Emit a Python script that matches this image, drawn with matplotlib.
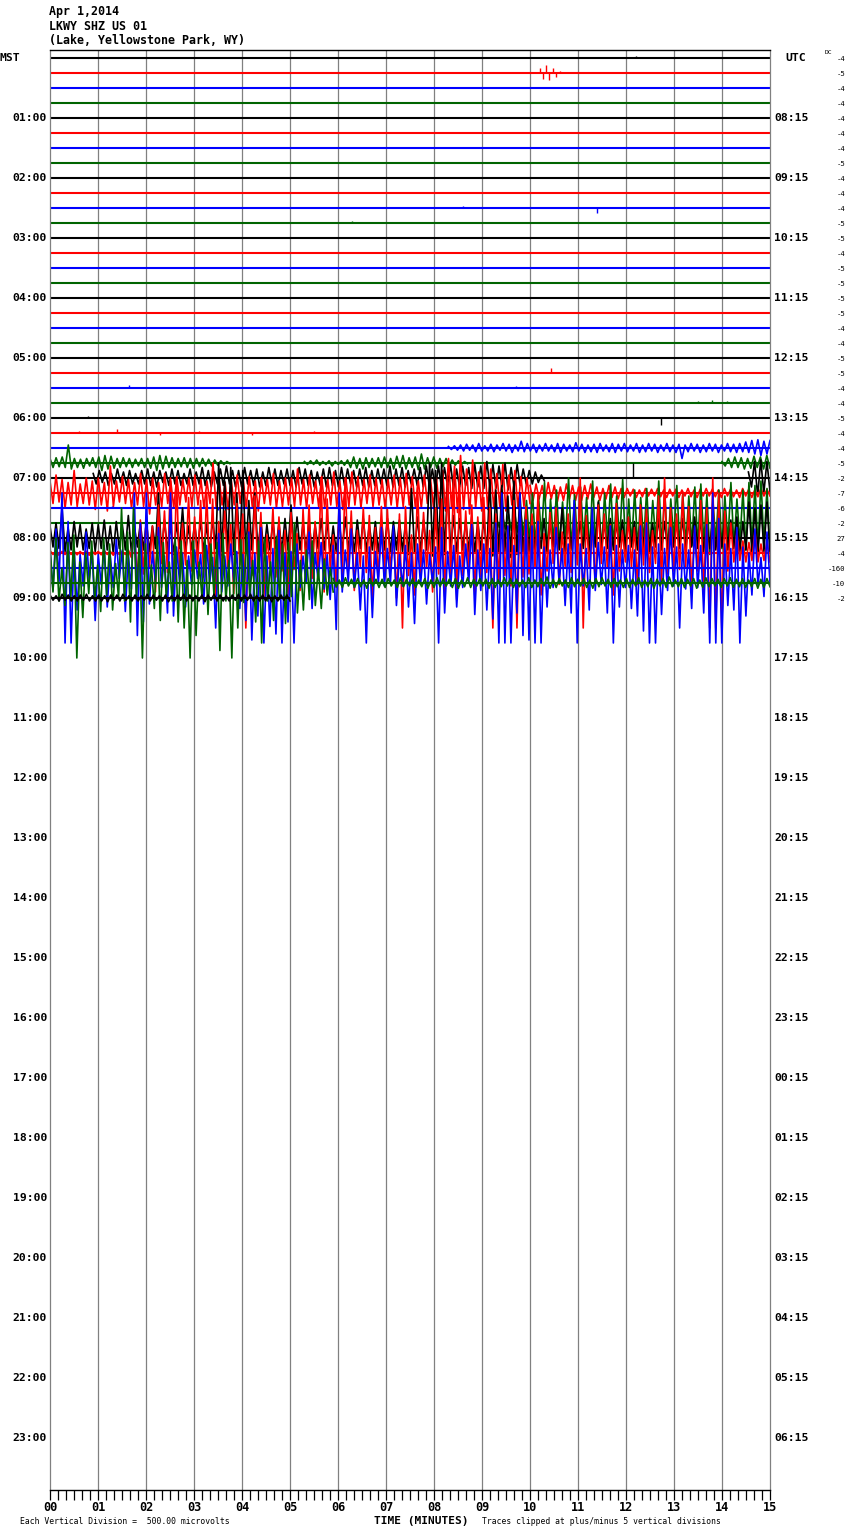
import numpy as np
import matplotlib
matplotlib.use('Agg')
import matplotlib.pyplot as plt
from matplotlib.ticker import MultipleLocator
from matplotlib.transforms import blended_transform_factory

# ---------------- data ----------------
title_lines = ['Apr 1,2014', 'LKWY SHZ US 01', '(Lake, Yellowstone Park, WY)']
minute_labels = ['00', '01', '02', '03', '04', '05', '06', '07', '08', '09',
                 '10', '11', '12', '13', '14', '15']
mst_labels = ['01:00', '02:00', '03:00', '04:00', '05:00', '06:00', '07:00', '08:00',
              '09:00', '10:00', '11:00', '12:00', '13:00', '14:00', '15:00', '16:00',
              '17:00', '18:00', '19:00', '20:00', '21:00', '22:00', '23:00']
utc_labels = ['08:15', '09:15', '10:15', '11:15', '12:15', '13:15', '14:15', '15:15',
              '16:15', '17:15', '18:15', '19:15', '20:15', '21:15', '22:15', '23:15',
              '00:15', '01:15', '02:15', '03:15', '04:15', '05:15', '06:15']
dc_values = [-4, -5, -4, -4, -4, -4, -4, -5, -4, -4, -4, -5, -5, -4, -5, -5, -5, -5,
             -4, -4, -5, -5, -4, -4, -5, -4, -4, -5, -2, -7, -6, -2, 27, -4, -160, -10, -2]
trace_colors = ['#000000', '#ff0000', '#0000ff', '#006400']
recorded_rows = list(range(0, 37))
row_end = [15] * 36 + [5]

# small isolated wiggles (row, minute, amplitude in divisions)
event_rows = [0, 1, 1, 1, 1, 1, 1, 1, 10, 10, 11, 21, 22, 22, 23, 23, 23, 24, 24,
              25, 25, 25, 25, 25, 25, 28, 30, 30, 30, 30, 30]
event_mins = [12.2, 10.2, 10.27, 10.33, 10.4, 10.47, 10.55, 10.62, 8.6, 11.4, 6.3,
              10.44, 1.65, 9.7, 13.5, 13.8, 14.1, 0.8, 12.73,
              0.6, 1.4, 2.3, 3.1, 4.2, 5.5, 12.15, 1.3, 3.5, 6.0, 10.5, 12.8]
event_amps = [0.15, 0.3, -0.4, 0.5, -0.45, 0.35, -0.25, 0.15, 0.15, -0.35, 0.12,
              0.35, 0.2, 0.15, 0.15, 0.2, 0.15, 0.15, -0.45,
              0.12, 0.25, -0.15, 0.15, -0.12, 0.1, 1.0, 0.15, -0.15, 0.12, 0.15, -0.12]

# noisy segments: alternating peak values (divisions), read from the record
r26_a = [0.1, -0.1, 0.15, -0.15, 0.2, -0.2, 0.25, -0.15, 0.2, -0.25, 0.3, -0.2, 0.15, -0.2, 0.25, -0.25,
         0.2, -0.15, 0.3, -0.2, 0.25, -0.3, 0.2, -0.2, 0.45, -0.25, 0.3, -0.2, 0.25, -0.3, 0.2, -0.2,
         0.3, -0.2, 0.2, -0.25, 0.3, -0.3, 0.25, -0.2, 0.2, -0.25, 0.35, -0.2, 0.25, -0.3, 0.2, -0.25,
         0.25, -0.3, 0.3, -0.2, 0.2, -0.25, 0.3, -0.3, 0.25, -0.2, 0.3, -0.25, 0.2, -0.2, 0.3, -0.3,
         0.2, -0.25, 0.3, -0.2, 0.25, -0.3, 0.2, -0.2, 0.3, -0.25, 0.2, -0.3, 0.25, -0.7, 0.2, -0.25,
         0.3, -0.2, 0.25, -0.3, 0.2, -0.25, 0.3, -0.2, 0.25, -0.3, 0.2, -0.2, 0.3, -0.25, 0.25, -0.3,
         0.3, -0.25, 0.4, -0.3, 0.5, -0.4, 0.55, -0.5, 0.45, -0.4, 0.5]

r27_a = [0.3, -0.3, 0.35, -0.25, 0.4, -0.3, 1.2, -0.4, 0.3, -0.3, 0.25, -0.35, 0.3, -0.2, 0.35, -0.3,
         0.4, -0.5, 0.5, -0.4, 0.45, -0.35, 0.3, -0.3, 0.35, -0.25, 0.3, -0.3, 0.25, -0.2, 0.3, -0.3,
         0.3, -0.35, 0.4, -0.5, 0.5, -0.4, 0.45, -0.3, 0.35, -0.3, 0.3, -0.25, 0.35, -0.3, 0.3, -0.35,
         0.3, -0.25, 0.3, -0.2, 0.25, -0.2, 0.2, -0.15, 0.15, -0.1, 0.1, -0.05]
r27_b = [0.1, -0.1, 0.15, -0.1, 0.2, -0.15, 0.1, -0.1, 0.15, -0.2, 0.1, -0.1, 0.15, -0.15, 0.2, -0.3,
         0.4, -0.35, 0.3, -0.4, 0.35, -0.3, 0.3, -0.25, 0.35, -0.3, 0.4, -0.3, 0.3, -0.4, 0.45, -0.3,
         0.5, -0.4, 0.35, -0.3, 0.4, -0.45, 0.6, -0.4, 0.35, -0.3, 0.4, -0.35, 0.3, -0.25, 0.3, -0.2,
         0.2, -0.15, 0.15, -0.1, 0.1, -0.05]
r27_c = [0.1, -0.2, 0.3, -0.3, 0.4, -0.3, 0.35, -0.4, 0.3, -0.35, 0.45, -0.3, 0.4, -0.4, 0.5, -0.35]

r28_a = [0.3, -0.4, 0.5, -0.3, 0.4, -0.5, 0.3, -0.4, 0.6, -0.3, 0.4, -0.5, 0.5, -0.4, 0.3, -0.4,
         0.5, -0.4, 0.6, -0.5, 0.4, -0.6, 0.5, -0.3, 0.4, -0.5, 0.6, -0.4, 0.5, -0.5, 0.3, -0.4,
         0.6, -0.5, 0.4, -0.4, 0.7, -0.5, 0.5, -0.6, 0.4, -0.4, 0.6, -0.5, 0.8, -0.4, 0.5, -0.6,
         0.5, -0.6, 0.7, -0.4, 0.5, -0.5, 0.6, -0.6, 0.4, -0.5, 0.7, -0.4, 0.6, -0.5, 0.5, -0.4,
         0.6, -0.5, 0.5, -0.6, 0.7, -0.4, 0.6, -0.5, 0.5, -0.6, 0.4, -0.5, 0.6, -0.6, 0.7, -0.5,
         0.5, -0.6, 0.7, -0.5, 0.6, -0.4, 0.5, -0.6, 0.6, -0.5, 0.7, -0.6, 0.5, -0.5, 0.6, -0.4,
         0.6, -0.5, 0.8, -0.6, 0.6, -0.5, 0.7, -0.6, 0.5, -0.4, 0.6, -0.5, 0.7, -0.6, 0.8, -0.5,
         0.6, -0.7, 0.8, -0.6, 0.7, -0.5, 0.9, -0.7, 0.6, -0.6, 0.8, -0.5, 0.7, -0.7, 0.9, -0.6,
         0.8, -0.7, 1.1, -0.6, 0.9, -0.7, 0.8, -0.6, 1.0, -0.8, 0.7, -0.6, 0.9, -0.5, 0.6, -0.4,
         0.5, -0.4, 0.4, -0.3, 0.2, -0.2]
r28_b = [0.4, -0.6, 1.1, -1.2, 1.2, -1.0, 1.1, -0.9]

r29_a = [0.8, -0.7, 1.2, -0.6, 0.9, -1.0, 0.7, -0.8, 1.5, -0.9, 0.6, -0.7, 1.0, -0.8, 0.8, -1.1,
         1.0, -0.8, 0.7, -1.2, 1.8, -0.9, 0.8, -0.6, 1.1, -0.7, 0.9, -1.0, 0.7, -0.8, 1.3, -0.9,
         0.9, -1.4, 1.0, -0.8, 0.7, -0.9, 1.3, -0.7, 0.8, -1.0, 1.1, -0.8, 0.9, -0.6, 1.0, -0.9,
         1.2, -0.8, 0.9, -1.0, 0.8, -0.7, 2.0, -0.9, 1.0, -0.8, 0.7, -1.1, 0.9, -0.8, 1.2, -0.7,
         0.9, -1.0, 1.1, -0.9, 0.8, -1.2, 1.0, -0.7, 0.9, -0.8, 1.3, -1.0, 0.8, -0.9, 1.0, -0.8,
         1.0, -0.9, 1.6, -0.8, 0.9, -1.0, 1.2, -0.7, 0.8, -0.9, 1.1, -1.0, 0.9, -0.8, 1.4, -0.9,
         0.8, -1.1, 1.0, -0.9, 1.4, -0.8, 1.1, -1.0, 0.9, -0.7, 1.2, -0.9, 1.0, -0.8, 0.9, -1.0,
         0.9, -0.8, 1.2, -1.0, 1.0, -0.9, 1.3, -0.8, 1.1, -0.9, 0.8, -1.0, 1.2, -0.7, 1.0, -0.9,
         1.0, -1.0, 1.5, -1.2, 2.3, -1.0, 1.8, -1.3, 2.5, -1.1, 1.6, -1.4, 2.2, -1.0, 1.4, -1.2,
         2.0, -1.1, 1.6, -1.0, 1.3, -0.9, 1.9, -1.2, 1.2, -0.8, 1.5, -1.0, 1.1, -0.9, 1.0, -0.7]
r29_b = [0.5, -0.5, 0.6, -0.4, 0.5, -0.5, 0.7, -0.4, 0.5, -0.6, 0.4, -0.5, 0.6, -0.4, 0.5, -0.5,
         0.4, -0.5, 0.5, -0.4, 0.6, -0.3, 0.4, -0.5, 0.3, -0.4, 0.5, -0.3, 0.4, -0.4, 0.3, -0.3,
         0.3, -0.2, 0.25, -0.3, 0.2, -0.25, 0.3, -0.2, 0.25, -0.2, 0.3, -0.25, 0.2, -0.3, 0.25, -0.2,
         0.25, -0.3, 0.2, -0.2, 0.3, -0.25, 0.2, -0.3, 0.25, -0.2, 0.3, -0.2, 0.25, -0.25, 0.2, -0.3,
         0.3, -0.2, 0.25, -0.25, 0.2, -0.3, 0.3, -0.2, 0.25, -0.3, 0.2, -0.25, 0.3, -0.2, 0.25, -0.2]

r31_a = [0.3, -0.3, 0.5, -0.4, 0.6, -0.5, 0.8, -0.6, 1.0, -0.8, 1.5, -1.2, 2.0, -1.5, 1.8, -1.0,
         2.7, -2.0, 1.6, -1.3, 2.2, -1.7, 1.4, -1.1, 3.0, -1.8, 1.9, -1.5, 2.4, -1.2, 1.7, -2.0,
         2.8, -1.4, 1.5, -1.8, 2.0, -1.2, 2.6, -1.6, 1.8, -1.3, 2.9, -2.0, 1.6, -1.4, 2.2, -1.7,
         1.7, -1.3, 2.3, -1.9, 1.5, -1.2, 2.8, -1.5, 2.0, -1.8, 1.6, -1.1, 2.5, -1.6, 1.9, -1.4,
         1.8, -1.5, 2.4, -1.6, 2.6, -1.4, 1.9, -2.1, 1.5, -1.2, 2.2, -1.7, 1.8, -1.3, 2.7, -1.6,
         1.6, -1.3, 2.2, -1.8, 2.7, -1.5, 2.5, -1.6, 2.8, -1.4, 2.3, -1.9]

r32_a = [0.8, -0.6, 1.0, -0.7, 2.0, -0.9, 0.7, -0.8, 1.1, -0.6, 0.9, -0.8, 0.6, -0.7, 1.0, -0.9,
         0.9, -0.7, 1.2, -0.8, 0.8, -1.0, 1.1, -0.7, 0.9, -0.8, 1.5, -0.9, 0.8, -0.6, 1.0, -0.8,
         1.1, -0.9, 0.8, -0.7, 3.0, -1.0, 1.2, -0.8, 0.9, -1.1, 1.0, -0.7, 2.0, -0.9, 0.8, -0.8,
         1.0, -0.8, 1.2, -0.9, 0.9, -1.0, 1.3, -0.7, 5.0, -1.2, 3.8, -1.0, 4.7, -1.1, 3.0, -0.9,
         4.5, -1.0, 2.5, -0.8, 3.0, -0.9, 1.2, -1.0, 0.9, -0.8, 1.1, -0.7, 1.0, -0.9, 1.3, -0.8,
         2.2, -1.0, 1.4, -0.8, 1.0, -0.9, 1.2, -1.1, 0.9, -0.7, 1.3, -0.8, 1.1, -1.0, 0.8, -0.9,
         1.1, -0.9, 1.4, -0.8, 1.0, -1.0, 1.2, -0.7, 1.3, -0.9, 0.9, -0.8, 1.1, -1.0, 1.2, -0.8,
         1.3, -1.0, 1.1, -0.8, 1.2, -0.9, 1.0, -1.1, 3.3, -1.0, 1.4, -0.9, 1.2, -0.8, 5.0, -1.2,
         4.5, -1.0, 5.0, -1.1, 3.6, -0.9, 1.5, -1.0, 1.3, -0.8, 1.2, -0.9, 1.4, -1.0, 1.1, -0.8,
         1.3, -1.0, 3.9, -1.2, 3.2, -1.0, 3.5, -0.9, 2.8, -1.3, 3.8, -1.1, 3.0, -1.0, 1.6, -0.9,
         1.2, -0.8, 1.0, -0.7, 1.3, -0.9, 1.1, -0.6, 1.2, -0.8, 2.0, -0.9, 1.3, -0.7, 1.0, -0.6,
         1.1, -0.7, 1.3, -0.8, 1.2, -0.6, 2.4, -0.9, 1.1, -0.7, 1.3, -0.8, 1.0, -0.6, 1.2, -0.7,
         1.3, -0.6, 1.1, -0.8, 1.2, -0.7, 1.4, -0.9, 1.0, -0.6, 1.3, -0.8, 1.1, -0.7, 1.2, -0.6,
         1.2, -0.7, 1.3, -0.8, 1.1, -0.6, 1.4, -0.7, 1.2, -0.9, 1.0, -0.7, 1.3, -0.8, 1.1, -0.6,
         1.3, -0.8, 1.2, -0.7, 1.4, -0.9, 1.1, -0.8, 2.4, -1.0, 2.0, -1.1, 2.2, -0.9, 2.4, -1.0]

r33_a = [0.15, -0.1, 0.1, -0.15, 0.1, -0.1, 0.15, -0.1, 0.1, -0.12, 0.1, -0.1, 0.12, -0.15, 0.1, -0.1,
         0.1, -0.12, 0.15, -0.1, 0.1, -0.15, 0.12, -0.1, 0.1, -0.1, 0.2, -0.3, 1.5, -1.8, 2.2, -1.4,
         2.5, -1.0, 1.8, -2.6, 3.2, -0.7, 2.8, -1.3, 5.0, -3.0, 5.0, -1.4, 2.0, -0.8, 3.7, -1.2,
         2.4, -0.9, 3.5, -1.6, 4.0, -1.2, 3.6, -2.9, 2.1, -1.4, 2.8, -1.0, 1.9, -2.7, 3.3, -0.8,
         2.6, -5.0, 2.0, -1.5, 3.8, -1.3, 2.7, -2.9, 1.2, -1.0, 3.0, -1.6, 2.4, -1.2, 1.5, -2.8,
         2.7, -1.1, 1.3, -2.5, 2.9, -1.0, 3.2, -1.7, 2.1, -1.4, 5.0, -2.6, 3.6, -1.0, 1.2, -2.3,
         3.4, -1.7, 5.0, -1.2, 2.8, -2.5, 1.5, -0.9, 3.0, -1.3, 2.5, -3.1, 1.7, -1.6, 3.1, -1.4,
         2.9, -1.2, 1.4, -3.0, 2.6, -5.0, 3.1, -1.5, 1.2, -2.8, 4.5, -1.4, 2.7, -1.0, 1.5, -2.6,
         3.0, -1.4, 3.6, -2.9, 5.0, -1.7, 5.0, -3.1, 4.5, -1.5, 2.8, -1.2, 3.2, -2.8, 2.4, -1.6,
         3.7, -1.3, 3.0, -5.0, 2.6, -1.9, 3.4, -1.5, 1.8, -2.2, 3.5, -5.0, 2.9, -1.6, 3.1, -1.4,
         2.6, -1.0, 3.9, -2.8, 1.3, -1.2, 2.7, -0.7, 3.0, -2.1, 1.4, -0.9, 2.6, -1.3, 3.2, -0.8,
         5.0, -5.0, 2.5, -0.9, 1.8, -2.1, 3.2, -0.7, 2.6, -1.0, 1.9, -2.8, 3.3, -1.2, 1.5, -0.6,
         2.4, -0.9, 1.7, -2.1, 3.2, -0.8, 2.9, -1.3, 1.5, -0.7, 3.8, -2.0, 5.0, -1.4, 3.0, -1.2,
         2.6, -1.1, 3.9, -0.9, 3.1, -2.4, 1.7, -1.2, 3.5, -2.6, 3.0, -5.0, 5.0, -5.0, 4.0, -5.0,
         2.8, -1.2, 2.0, -0.6, 1.4, -0.5, 0.8, -0.6, 0.7, -0.5, 1.5, -0.6, 0.6, -0.5, 0.8, -0.6]

r34_a = [1.2, -1.5, 2.6, -0.9, 5.0, -5.0, 3.1, -5.0, 1.4, -2.8, 0.9, -1.2, 2.4, -0.8, 1.1, -3.5,
         0.9, -1.1, 1.5, -2.6, 0.8, -1.3, 1.9, -0.7, 1.2, -2.9, 0.9, -1.4, 5.0, -4.5, 3.0, -3.6,
         5.0, -2.4, 1.1, -0.9, 2.7, -1.3, 0.8, -3.0, 5.0, -3.2, 1.4, -0.9, 1.0, -2.6, 0.8, -1.1,
         1.2, -0.7, 0.9, -2.4, 1.5, -1.0, 0.7, -4.0, 2.3, -1.6, 0.8, -1.2, 1.6, -0.9, 1.1, -2.7,
         0.9, -3.5, 2.4, -4.8, 1.0, -3.2, 2.7, -5.0, 0.8, -3.9, 1.3, -4.4, 2.5, -5.0, 1.0, -3.6,
         1.1, -5.0, 1.6, -1.3, 0.8, -1.0, 2.4, -2.7, 1.0, -0.8, 1.7, -1.4, 0.9, -2.1, 1.5, -4.1,
         5.0, -1.6, 1.2, -0.9, 2.6, -1.3, 1.0, -2.8, 0.8, -5.0, 1.4, -3.3, 1.1, -1.0, 2.7, -1.2,
         1.3, -1.0, 2.8, -2.5, 0.9, -1.2, 1.5, -2.6, 1.0, -3.7, 1.6, -1.1, 1.2, -2.4, 0.9, -1.0,
         1.4, -5.0, 2.7, -3.0, 1.1, -1.2, 1.5, -2.6, 0.8, -1.3, 1.6, -1.0, 2.9, -3.1, 1.2, -1.5,
         1.6, -2.8, 1.3, -3.4, 3.0, -5.0, 5.0, -5.0, 2.8, -5.0, 1.5, -3.0, 5.0, -4.5, 3.2, -4.8,
         2.8, -5.0, 3.1, -5.0, 1.4, -2.6, 1.2, -1.3, 2.7, -1.0, 1.3, -2.5, 1.6, -3.0, 4.5, -5.0,
         1.6, -1.2, 1.3, -2.8, 4.0, -1.5, 1.7, -1.1, 1.4, -3.0, 2.8, -5.0, 1.5, -2.6, 1.2, -1.3,
         1.5, -2.7, 1.2, -3.2, 2.8, -4.2, 3.0, -5.0, 1.4, -5.0, 1.6, -3.1, 1.3, -1.5, 2.7, -1.2,
         1.4, -4.0, 1.6, -1.4, 1.2, -2.7, 2.8, -1.3, 1.5, -3.0, 2.9, -5.0, 5.0, -5.0, 3.3, -5.0,
         1.6, -2.5, 1.3, -2.8, 2.7, -5.0, 1.4, -3.2, 1.0, -1.8, 2.6, -1.1, 0.7, -1.9, 2.4, -1.0]

r35_a = [2.5, -0.6, 3.0, -1.2, 1.0, -1.5, 2.7, -0.9, 3.2, -5.0, 1.4, -2.3, 2.0, -0.7, 2.8, -1.1,
         1.2, -1.9, 3.0, -0.8, 2.6, -1.8, 1.3, -1.0, 5.0, -1.2, 3.4, -2.6, 5.0, -1.1, 2.9, -5.0,
         2.6, -1.0, 1.2, -1.7, 3.1, -2.5, 2.7, -0.9, 1.4, -1.2, 3.0, -2.6, 2.8, -3.0, 1.5, -5.0,
         2.8, -3.5, 1.4, -1.0, 3.0, -2.1, 2.6, -0.8, 2.7, -4.5, 3.3, -1.2, 1.5, -5.0, 2.9, -3.0,
         2.9, -1.3, 3.2, -0.9, 1.5, -2.6, 2.8, -4.0, 3.0, -1.2, 1.4, -2.5, 3.1, -1.1, 2.6, -2.7,
         2.7, -0.9, 3.9, -2.0, 1.5, -1.8, 2.2, -1.1, 2.8, -1.5, 1.0, -1.7, 1.6, -0.8, 1.0, -0.6]
r35_b = [0.3, -0.25, 0.2, -0.3, 0.35, -0.2, 0.25, -0.3, 0.3, -0.25, 0.2, -0.35, 0.3, -0.2, 0.25, -0.3,
         0.25, -0.3, 0.3, -0.2, 0.2, -0.3, 0.35, -0.25, 0.25, -0.2, 0.3, -0.3, 0.2, -0.25, 0.3, -0.35,
         0.2, -0.3, 0.35, -0.25, 0.3, -0.2, 0.25, -0.3, 0.3, -0.35, 0.2, -0.25, 0.35, -0.3, 0.25, -0.2,
         0.3, -0.2, 0.25, -0.35, 0.3, -0.3, 0.2, -0.25, 0.35, -0.2, 0.3, -0.3, 0.25, -0.25, 0.2, -0.3,
         0.35, -0.3, 0.2, -0.25, 0.3, -0.2, 0.4, -0.35, 0.25, -0.3, 0.3, -0.2, 0.2, -0.3, 0.35, -0.25,
         0.25, -0.2, 0.3, -0.3, 0.2, -0.35, 0.3, -0.25, 0.35, -0.2, 0.25, -0.3, 0.3, -0.25, 0.2, -0.3,
         0.3, -0.3, 0.25, -0.2, 0.35, -0.3, 0.2, -0.25, 0.3, -0.35, 0.25, -0.2, 0.3, -0.3, 0.4, -0.25,
         0.2, -0.25, 0.3, -0.3, 0.25, -0.2, 0.3, -0.35, 0.2, -0.3, 0.35, -0.25, 0.3, -0.2, 0.25, -0.3,
         0.3, -0.2, 0.35, -0.3, 0.25, -0.25, 0.3, -0.3, 0.2, -0.25, 0.3, -0.35, 0.25, -0.3, 0.3, -0.25]

r36_a = [0.2, -0.15, 0.15, -0.2, 0.25, -0.15, 0.2, -0.2, 0.15, -0.2, 0.2, -0.15, 0.25, -0.2, 0.15, -0.2,
         0.2, -0.2, 0.15, -0.25, 0.2, -0.15, 0.2, -0.2, 0.25, -0.15, 0.15, -0.2, 0.2, -0.2, 0.15, -0.15,
         0.25, -0.2, 0.2, -0.15, 0.15, -0.2, 0.2, -0.25, 0.15, -0.2, 0.2, -0.15, 0.25, -0.2, 0.2, -0.2,
         0.15, -0.2, 0.2, -0.25, 0.2, -0.15, 0.25, -0.2, 0.2, -0.2, 0.15, -0.2, 0.2, -0.15, 0.25, -0.2,
         0.2, -0.15, 0.25, -0.2, 0.15, -0.2, 0.2, -0.2, 0.2, -0.25, 0.15, -0.2, 0.2, -0.15, 0.2, -0.2]

seg_rows = [26, 27, 27, 27, 28, 28, 29, 29, 31, 32, 33, 34, 35, 35, 36]
seg_start = [8.3, 0.0, 5.3, 14.0, 0.9, 14.55, 0.0, 10.0, 9.3, 0.0, 0.0, 0.0, 0.0, 5.9, 0.0]
seg_end = [15, 3.75, 8.7, 15, 10.3, 15, 10.0, 15, 15, 15, 15, 15, 5.9, 15, 5.0]
seg_values = [r26_a, r27_a, r27_b, r27_c, r28_a, r28_b, r29_a, r29_b, r31_a,
              r32_a, r33_a, r34_a, r35_a, r35_b, r36_a]
clip_div = 5

# ---------------- figure ----------------
W, H = 850, 1534
fig = plt.figure(figsize=(W / 100, H / 100), dpi=100)
ax = fig.add_axes([50 / W, (H - 1490) / H, 720 / W, 1440 / H])
ax.set_xlim(0, 15)
ax.set_ylim(95.467, -0.533)

mono = 'DejaVu Sans Mono'
grey = '#808080'

ax.vlines(range(1, 15), -0.533, 95.467, color=grey, lw=0.9, zorder=1)

# baseline of every recorded row
for r, end in zip(recorded_rows, row_end):
    ax.plot([0, end], [r, r], color=trace_colors[r % 4], lw=1.5,
            solid_capstyle='butt', zorder=2 + r * 0.01)

for r, m, a in zip(event_rows, event_mins, event_amps):
    ax.vlines(m, r, r - a, color=trace_colors[r % 4], lw=1.0, zorder=2 + r * 0.01)

for r, t0, t1, vals in zip(seg_rows, seg_start, seg_end, seg_values):
    v = np.clip(np.array(vals, dtype=float), -clip_div, clip_div)
    x = np.linspace(t0, t1, len(v))
    ax.plot(x, r - v, color=trace_colors[r % 4], lw=1.2, zorder=2 + r * 0.01)

for s in ['left', 'right']:
    ax.spines[s].set_color(grey)
    ax.spines[s].set_linewidth(0.9)
for s in ['top', 'bottom']:
    ax.spines[s].set_color('black')
    ax.spines[s].set_linewidth(1.0)
ax.set_yticks([])
ax.set_xticks(range(16))
ax.set_xticklabels(minute_labels, fontfamily=mono, fontweight='bold', fontsize=8.6)
ax.xaxis.set_minor_locator(MultipleLocator(1 / 6))
ax.tick_params(axis='x', which='both', direction='out', length=7.5, width=0.9,
               color='black', pad=0.5)

tl = blended_transform_factory(fig.transFigure, ax.transData)
lab = dict(transform=tl, va='center', fontsize=8.2, fontfamily=mono, fontweight='bold')
ax.text(0 / W, 0, 'MST', ha='left', **lab)
ax.text(785 / W, 0, 'UTC', ha='left', **lab)
for i, (ml, ul) in enumerate(zip(mst_labels, utc_labels)):
    row = 4 * (i + 1)
    ax.text(47 / W, row, ml, ha='right', **lab)
    ax.text(774 / W, row, ul, ha='left', **lab)

for r, d in enumerate(dc_values):
    ax.text(845 / W, r + 0.1, str(d), transform=tl, ha='right', va='center',
            fontsize=5.2, fontfamily=mono)
fig.text(825 / W, 1 - 53 / H, 'DC', ha='left', va='center', fontsize=4.6, fontfamily=mono)

for t, yp in zip(title_lines, [12, 26, 41]):
    fig.text(49 / W, 1 - yp / H, t, ha='left', va='center', fontsize=8.4,
             fontfamily=mono, fontweight='bold')

fig.text(20 / W, 1 - 1521 / H, 'Each Vertical Division =  500.00 microvolts',
         ha='left', va='center', fontsize=5.9, fontfamily=mono)
fig.text(374 / W, 1 - 1521 / H, 'TIME (MINUTES)', ha='left', va='center',
         fontsize=8.0, fontfamily=mono, fontweight='bold')
fig.text(482 / W, 1 - 1521 / H, 'Traces clipped at plus/minus 5 vertical divisions',
         ha='left', va='center', fontsize=5.8, fontfamily=mono)

fig.savefig('out.png', dpi=100, facecolor='white')
